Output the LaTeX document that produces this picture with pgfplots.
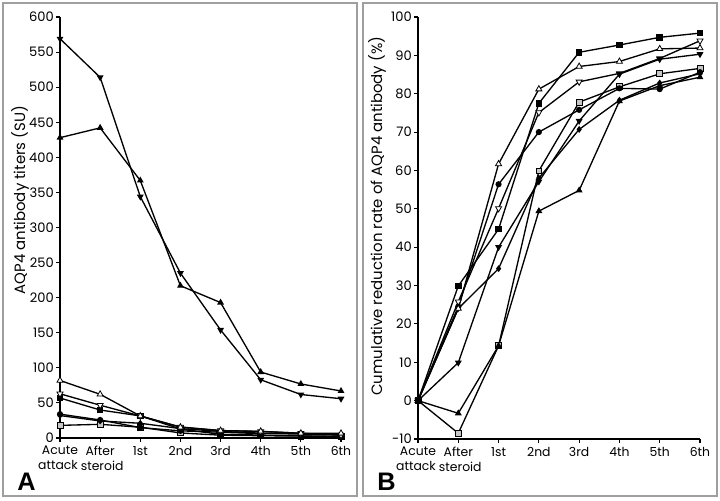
\documentclass[border=0pt]{standalone}
\usepackage{fontspec}
\setmainfont{Poppins}
\newfontfamily\labfont{Liberation Sans}
\usepackage{pgfplots}
\pgfplotsset{compat=1.18}

\pgfplotsset{
  panel/.style={
    scale only axis,
    axis x line=bottom, axis y line=left,
    axis line style={line width=1.1pt,-},
    xtick pos=bottom, ytick pos=left,
    xmin=0, xmax=7,
    xtick={0,...,7},
    xticklabels={{Acute\\attack\kern3pt},{After\\\kern3pt steroid},1st,2nd,3rd,4th,5th,6th},
    xticklabel style={align=center, font=\fontsize{9.3}{11.25}\selectfont, inner sep=1pt, yshift=-2pt},
    yticklabel style={font=\fontsize{9.8}{11}\selectfont, inner sep=1.5pt},
    ylabel style={font=\fontsize{11.2}{12}\selectfont, anchor=center},
    tick style={black, line width=0.8pt},
    tick align=outside,
    major tick length=3pt,
    /pgf/number format/assume math mode=true,
    clip=false,
  },
  ln/.style={black, line width=1pt},
  mDT/.style={ln, mark=triangle*, mark size=2pt, mark options={solid, rotate=180, fill=black}},
  mT/.style={ln, mark=triangle*, mark size=2pt, mark options={solid, fill=black}},
  oT/.style={ln, mark=triangle*, mark size=2.6pt, mark options={solid, fill=white, line width=0.6pt}},
  oDT/.style={ln, mark=triangle*, mark size=2.6pt, mark options={solid, rotate=180, fill=white, line width=0.6pt}},
  fS/.style={ln, mark=square*, mark size=2pt, mark options={solid, fill=black}},
  fC/.style={ln, mark=*, mark size=1.8pt, mark options={solid, fill=black}},
  fD/.style={ln, mark=diamond*, mark size=1.8pt, mark options={solid, fill=black}},
  oS/.style={ln, mark=square*, mark size=2.2pt, mark options={solid, fill=gray!45, line width=0.6pt}},
}

\begin{document}
\begin{tikzpicture}[x=1pt,y=1pt]
\useasboundingbox (0,0) rectangle (540,375);
\draw[gray!75, line width=1.1pt] (2.25,3.0) rectangle (267.75,372.75);
\draw[gray!75, line width=1.1pt] (272.25,3.0) rectangle (537.75,372.75);

\begin{axis}[panel,
  at={(45pt,46.5pt)}, anchor=south west,
  width=210.75pt, height=315.75pt,
  ymin=0, ymax=600, ytick={0,50,...,600},
  ylabel={AQP4 antibody titers (SU)},
  ylabel style={at={(axis description cs:-0.142,0.565)}},
]
\addplot[oS]  coordinates {(0,18) (1,19.5) (2,15.4) (3,7.2) (4,4.0) (5,3.3) (6,2.7) (7,2.4)};
\addplot[fD]  coordinates {(0,32) (1,24.3) (2,21) (3,13.4) (4,9.4) (5,6.9) (6,5.5) (7,4.7)};
\addplot[fC]  coordinates {(0,34) (1,25.7) (2,14.8) (3,10.2) (4,8.2) (5,6.3) (6,6.4) (7,4.9)};
\addplot[fS]  coordinates {(0,57) (1,39.9) (2,31.5) (3,12.8) (4,5.2) (5,4.2) (6,3.0) (7,2.4)};
\addplot[oDT] coordinates {(0,63) (1,46.7) (2,31.4) (3,15.7) (4,10.6) (5,9.3) (6,6.8) (7,3.9)};
\addplot[oT]  coordinates {(0,82) (1,62.3) (2,31.4) (3,15.4) (4,10.6) (5,9.5) (6,6.8) (7,6.6)};
\addplot[mT]  coordinates {(0,428) (1,442) (2,367) (3,217) (4,193) (5,94) (6,77) (7,67)};
\addplot[mDT] coordinates {(0,569) (1,514) (2,344) (3,235) (4,154) (5,83) (6,62) (7,56)};
\end{axis}

\begin{axis}[panel,
  at={(313.5pt,45.75pt)}, anchor=south west,
  width=211.5pt, height=316.5pt,
  ymin=-10, ymax=100, ytick={-10,0,...,100},
  ylabel={Cumulative reduction rate of AQP4 antibody (\%)},
  ylabel style={at={(axis description cs:-0.145,0.528)}},
]
\addplot[oS]  coordinates {(0,0) (1,-8.5) (2,14.3) (3,59.9) (4,77.8) (5,81.8) (6,85.2) (7,86.6)};
\addplot[fD]  coordinates {(0,0) (1,24) (2,34.4) (3,58) (4,70.7) (5,78.3) (6,82.8) (7,85.2)};
\addplot[fC]  coordinates {(0,0) (1,24.5) (2,56.4) (3,70) (4,75.8) (5,81.4) (6,81.2) (7,85.6)};
\addplot[fS]  coordinates {(0,0) (1,29.9) (2,44.7) (3,77.5) (4,90.8) (5,92.7) (6,94.7) (7,95.8)};
\addplot[oDT] coordinates {(0,0) (1,25.8) (2,50.1) (3,75.1) (4,83.1) (5,85.3) (6,89.2) (7,93.8)};
\addplot[oT]  coordinates {(0,0) (1,24) (2,61.7) (3,81.2) (4,87.1) (5,88.4) (6,91.7) (7,91.9)};
\addplot[mT]  coordinates {(0,0) (1,-3.3) (2,14.3) (3,49.4) (4,54.8) (5,78.1) (6,82.1) (7,84.3)};
\addplot[mDT] coordinates {(0,0) (1,9.9) (2,40) (3,57.1) (4,72.9) (5,85.1) (6,89) (7,90.3)};
\end{axis}

\node[anchor=base west, font=\labfont\bfseries\fontsize{19}{19}\selectfont] at (9.5,7.5) {A};
\node[anchor=base west, font=\labfont\bfseries\fontsize{19}{19}\selectfont] at (279.5,7.5) {B};
\end{tikzpicture}
\end{document}
